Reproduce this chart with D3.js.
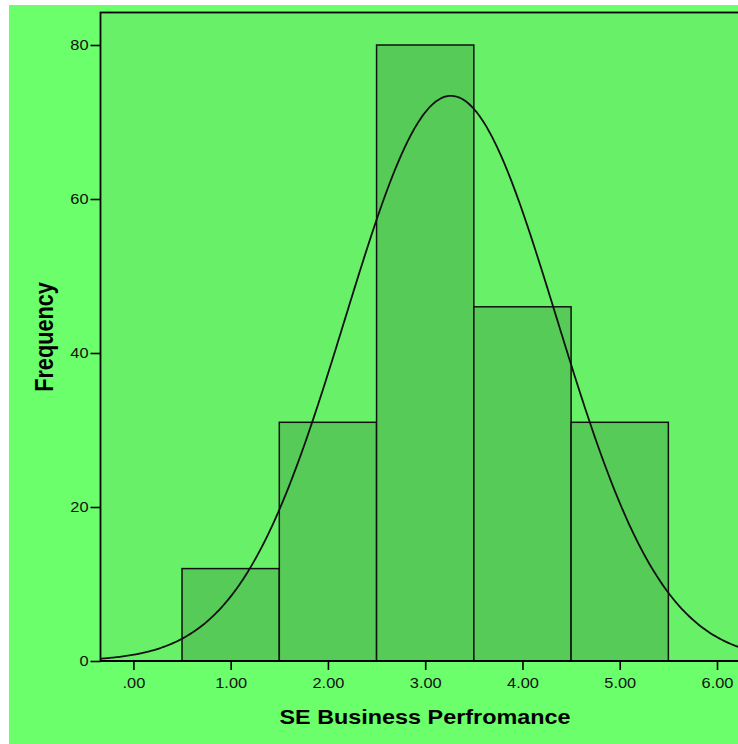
<!DOCTYPE html>
<html><head><meta charset="utf-8">
<script src="https://cdn.jsdelivr.net/npm/d3@7"></script>
<style>body{margin:0;background:#fff;}svg{display:block;}text{font-family:"Liberation Sans",Arial,sans-serif;}</style>
</head><body>
<svg id="c" width="738" height="744"></svg>
<script>
const binStarts = [0.5, 1.5, 2.5, 3.5, 4.5];
const binEnds = [1.5, 2.5, 3.5, 4.5, 5.5];
const frequencies = [12, 31, 80, 46, 31];
const xTicks = [0, 1, 2, 3, 4, 5, 6];
const xTickLabels = [".00", "1.00", "2.00", "3.00", "4.00", "5.00", "6.00"];
const yTicks = [0, 20, 40, 60, 80];
const normalMean = 3.265;
const normalSD = 1.087;
const totalN = 200;

(function () {
const sx = 1.17;
const svg = d3.select("#c");
svg.append("rect").attr("x", 9).attr("y", 5).attr("width", 729).attr("height", 739).attr("fill", "#6bff6b");

const x = d3.scaleLinear().domain([0, 6]).range([133.4, 717]);
const y = d3.scaleLinear().domain([0, 80]).range([661, 45]);
const pLeft = 100.5, pTop = 12.5, pRight = 740, pBottom = 661;

svg.append("rect").attr("x", pLeft).attr("y", pTop).attr("width", pRight - pLeft).attr("height", pBottom - pTop)
  .attr("fill", "#69f069").attr("stroke", "#000").attr("stroke-width", 1.8);

const g = svg.append("g");
g.selectAll("rect.bar").data(frequencies).join("rect").attr("class", "bar")
  .attr("x", (d, i) => x(binStarts[i]))
  .attr("width", (d, i) => x(binEnds[i]) - x(binStarts[i]))
  .attr("y", d => y(d))
  .attr("height", d => y(0) - y(d))
  .attr("fill", "#57cb57").attr("stroke", "#111").attr("stroke-width", 1.5);

const x0 = x.invert(pLeft), x1 = x.invert(pRight);
const pts = d3.range(0, 401).map(i => x0 + (x1 - x0) * i / 400);
const dens = v => totalN / (normalSD * Math.sqrt(2 * Math.PI)) * Math.exp(-((v - normalMean) ** 2) / (2 * normalSD * normalSD));
svg.append("path").datum(pts)
  .attr("d", d3.line().x(d => x(d)).y(d => y(dens(d))).curve(d3.curveBasis))
  .attr("fill", "none").attr("stroke", "#111").attr("stroke-width", 1.8);

const xa = svg.append("g").attr("transform", `translate(0,${pBottom})`)
  .call(d3.axisBottom(x).tickValues(xTicks).tickFormat((d, i) => xTickLabels[i]).tickSize(9).tickSizeOuter(0));
xa.select(".domain").remove();
xa.selectAll("line").attr("stroke", "#000").attr("stroke-width", 1.6);
xa.selectAll("text").attr("font-size", 14).attr("fill", "#111").attr("y", 0).attr("dy", 0)
  .attr("transform", `translate(0,26.5) scale(${sx},1)`);

const ya = svg.append("g").attr("transform", `translate(${pLeft},0)`)
  .call(d3.axisLeft(y).tickValues(yTicks).tickSize(10).tickSizeOuter(0));
ya.select(".domain").remove();
ya.selectAll("line").attr("stroke", "#000").attr("stroke-width", 1.6);
ya.selectAll("text").attr("font-size", 14).attr("fill", "#111").attr("x", -12 / sx)
  .attr("transform", `scale(${sx},1)`);

svg.append("line").attr("x1", pLeft).attr("x2", pRight).attr("y1", pBottom).attr("y2", pBottom).attr("stroke", "#000").attr("stroke-width", 1.9);

svg.append("text").attr("transform", `translate(425,724) scale(${sx},1)`).attr("text-anchor", "middle")
  .attr("font-size", 20).attr("font-weight", "bold").attr("fill", "#000").text("SE Business Perfromance");
svg.append("text").attr("transform", `translate(53,337) scale(${sx},1) rotate(-90)`).attr("text-anchor", "middle")
  .attr("font-size", 21.7).attr("font-weight", "bold").attr("fill", "#000").text("Frequency");
})();
</script>
</body></html>
